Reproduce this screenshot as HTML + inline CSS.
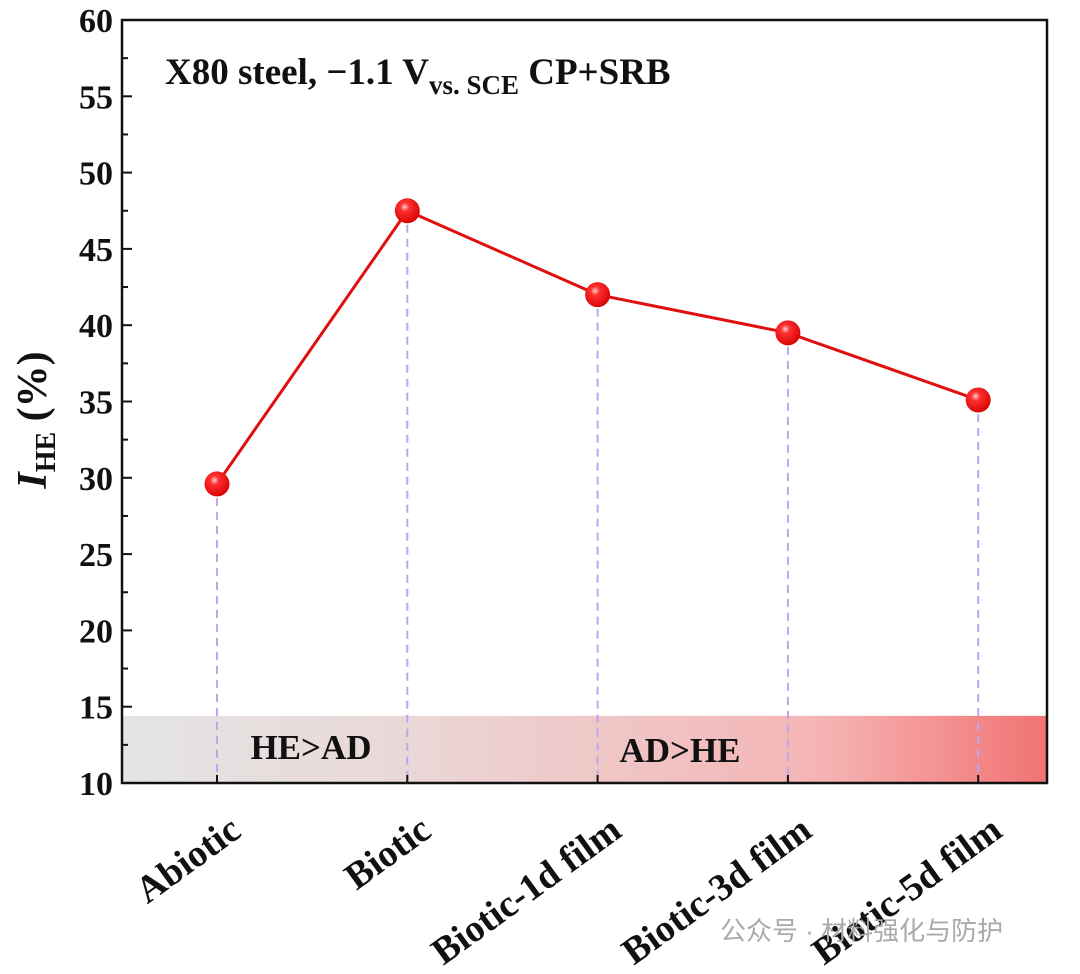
<!DOCTYPE html>
<html><head><meta charset="utf-8"><style>
body{margin:0;background:#fff}
svg text{font-family:"Liberation Serif",serif;font-weight:bold;fill:#111}
</style></head><body>
<svg width="1080" height="969" viewBox="0 0 1080 969">
<defs>
<linearGradient id="band" x1="0" x2="1" y1="0" y2="0">
<stop offset="0" stop-color="#e4e4e4"/><stop offset="0.3" stop-color="#ead8d8"/><stop offset="0.75" stop-color="#f5b5b5"/><stop offset="1" stop-color="#f27373"/>
</linearGradient>
<radialGradient id="ball" cx="0.4" cy="0.35" r="0.7">
<stop offset="0" stop-color="#ffd0d0"/><stop offset="0.25" stop-color="#ff3030"/><stop offset="1" stop-color="#d40000"/>
</radialGradient>
</defs>
<g id="plot"></g>
</svg>
<script>
const categories=["Abiotic","Biotic","Biotic-1d film","Biotic-3d film","Biotic-5d film"];
const values=[29.6,47.5,42.0,39.5,35.1];
const errors=[0.7,0.4,0.3,0.3,0.3];
const yTicks=[10,15,20,25,30,35,40,45,50,55,60];
const bandTop=14.4;
const L=122,R=1047,T=20,B=783,yMin=10,yMax=60;
const xs=i=>217+i*190.3;
const ys=v=>B-(v-yMin)/(yMax-yMin)*(B-T);
const NS="http://www.w3.org/2000/svg";
const g=document.getElementById('plot');
function mk(tag,attrs,parent){const e=document.createElementNS(NS,tag);for(const k in attrs)e.setAttribute(k,attrs[k]);(parent||g).appendChild(e);return e;}
let band=mk('rect',{x:L,y:ys(bandTop),width:R-L,height:B-ys(bandTop),fill:'url(#band)'});


let t1=mk('text',{x:311,y:759,'font-size':35,'text-anchor':'middle'});t1.textContent='HE>AD';


let t2=mk('text',{x:680,y:762,'font-size':35,'text-anchor':'middle'});t2.textContent='AD>HE';


categories.forEach((c,i)=>{
 let d=mk('line',{x1:xs(i),x2:xs(i),y1:ys(values[i]),y2:B,stroke:'#b9a7f0','stroke-width':2,'stroke-dasharray':'8,6'});
 
 
 let tk=mk('line',{x1:xs(i),x2:xs(i),y1:B,y2:B-8,stroke:'#111','stroke-width':2});
 
 
 let lb=mk('text',{x:0,y:0,'font-size':38,'text-anchor':'end',transform:`translate(${xs(i)+26},${B+52}) rotate(-36)`});
 lb.textContent=c;
 
 
});
let pts=values.map((v,i)=>xs(i)+','+ys(v)).join(' ');
let line=mk('polyline',{points:pts,fill:'none',stroke:'#e01010','stroke-width':3});


values.forEach((v,i)=>{
 let e=mk('line',{x1:xs(i),x2:xs(i),y1:ys(v+errors[i]),y2:ys(v-errors[i]),stroke:'#e01010','stroke-width':3});
 
 
 let c=mk('circle',{cx:xs(i),cy:ys(v),r:12.5,fill:'url(#ball)'});
 
 
});
yTicks.forEach(t=>{
 let tk=mk('line',{x1:L,x2:L+10,y1:ys(t),y2:ys(t),stroke:'#111','stroke-width':2});
 
 
 if(t<yMax){let m=mk('line',{x1:L,x2:L+6,y1:ys(t+2.5),y2:ys(t+2.5),stroke:'#111','stroke-width':2});
 
 }
 let lb=mk('text',{x:L-9,y:ys(t)+12,'font-size':34,'text-anchor':'end'});lb.textContent=t;
 
 
});
let box=mk('rect',{x:L,y:T,width:R-L,height:B-T,fill:'none',stroke:'#111','stroke-width':2.5});


let yt=mk('text',{x:0,y:0,'font-size':42,'text-anchor':'middle',transform:'translate(46,420) rotate(-90)'});
yt.innerHTML='<tspan font-style="italic">I</tspan><tspan font-size="28" dy="9">HE</tspan><tspan dy="-9"> (%)</tspan>';


let ti=mk('text',{x:165,y:84,'font-size':37});
ti.innerHTML='X80 steel, −1.1 V<tspan font-size="27" dy="10">vs. SCE</tspan><tspan dy="-10"> CP+SRB</tspan>';


let wm=mk('text',{x:720,y:940,'font-size':26});
wm.setAttribute('style','font-family:"Liberation Sans","Noto Sans CJK SC",sans-serif;font-weight:normal;fill:#aaa');
wm.textContent='公众号 · 材料强化与防护';


</script>
</body></html>
